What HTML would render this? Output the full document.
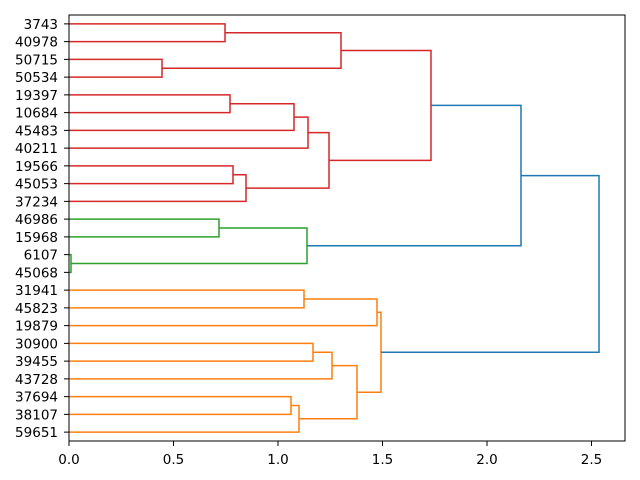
<!DOCTYPE html>
<html><head><meta charset="utf-8"><style>body{margin:0;background:#fff}svg{display:block}</style></head><body>
<svg width="640" height="480" xmlns="http://www.w3.org/2000/svg" font-family="DejaVu Sans, Liberation Sans, sans-serif" font-size="13.5">
<g fill="none" stroke-width="1.5">
<g stroke="#d62728">
<path d="M69,23.9 H225 V41.65 H69"/>
<path d="M69,59.4 H162 V77.15 H69"/>
<path d="M225,32.8 H341 V68.3 H162"/>
<path d="M69,94.9 H230 V112.65 H69"/>
<path d="M230,103.8 H294 V130.4 H69"/>
<path d="M294,117.1 H308 V148.15 H69"/>
<path d="M69,165.9 H233 V183.65 H69"/>
<path d="M233,174.8 H246 V201.4 H69"/>
<path d="M308,132.6 H329 V188.1 H246"/>
<path d="M341,50.5 H431 V160.4 H329"/>
</g>
<g stroke="#2ca02c">
<path d="M69,219.15 H219 V236.9 H69"/>
<path d="M69,254.65 H71 V272.4 H69"/>
<path d="M219,228 H307 V263.5 H71"/>
</g>
<g stroke="#ff7f0e">
<path d="M69,290.15 H304 V307.9 H69"/>
<path d="M304,299 H377 V325.65 H69"/>
<path d="M69,343.4 H313 V361.15 H69"/>
<path d="M313,352.3 H332 V378.9 H69"/>
<path d="M69,396.65 H291 V414.4 H69"/>
<path d="M291,405.5 H299 V432.15 H69"/>
<path d="M332,365.6 H357 V418.8 H299"/>
<path d="M377,312.3 H381 V392.2 H357"/>
</g>
<g stroke="#1f77b4">
<path d="M431,105.4 H521 V245.8 H307"/>
<path d="M521,175.6 H599 V352.2 H381"/>
</g>
</g>
<rect x="69" y="15" width="556" height="426" fill="none" stroke="#000" stroke-width="1"/>
<g stroke="#000" stroke-width="1">
<path d="M69,441v5M173.5,441v5M278,441v5M382.5,441v5M487,441v5M591.5,441v5"/>
<path d="M69,23.9h-5M69,41.65h-5M69,59.4h-5M69,77.15h-5M69,94.9h-5M69,112.65h-5M69,130.4h-5M69,148.15h-5M69,165.9h-5M69,183.65h-5M69,201.4h-5M69,219.15h-5M69,236.9h-5M69,254.65h-5M69,272.4h-5M69,290.15h-5M69,307.9h-5M69,325.65h-5M69,343.4h-5M69,361.15h-5M69,378.9h-5M69,396.65h-5M69,414.4h-5M69,432.15h-5"/>
</g>
<g text-anchor="middle" fill="#000">
<text x="69" y="464">0.0</text><text x="173.5" y="464">0.5</text><text x="278" y="464">1.0</text><text x="382.5" y="464">1.5</text><text x="487" y="464">2.0</text><text x="591.5" y="464">2.5</text>
</g>
<g text-anchor="end" fill="#000">
<text x="58" y="28.9">3743</text><text x="58" y="46.65">40978</text><text x="58" y="64.4">50715</text><text x="58" y="82.15">50534</text><text x="58" y="99.9">19397</text><text x="58" y="117.65">10684</text><text x="58" y="135.4">45483</text><text x="58" y="153.15">40211</text><text x="58" y="170.9">19566</text><text x="58" y="188.65">45053</text><text x="58" y="206.4">37234</text><text x="58" y="224.15">46986</text><text x="58" y="241.9">15968</text><text x="58" y="259.65">6107</text><text x="58" y="277.4">45068</text><text x="58" y="295.15">31941</text><text x="58" y="312.9">45823</text><text x="58" y="330.65">19879</text><text x="58" y="348.4">30900</text><text x="58" y="366.15">39455</text><text x="58" y="383.9">43728</text><text x="58" y="401.65">37694</text><text x="58" y="419.4">38107</text><text x="58" y="437.15">59651</text>
</g>
</svg>
</body></html>
